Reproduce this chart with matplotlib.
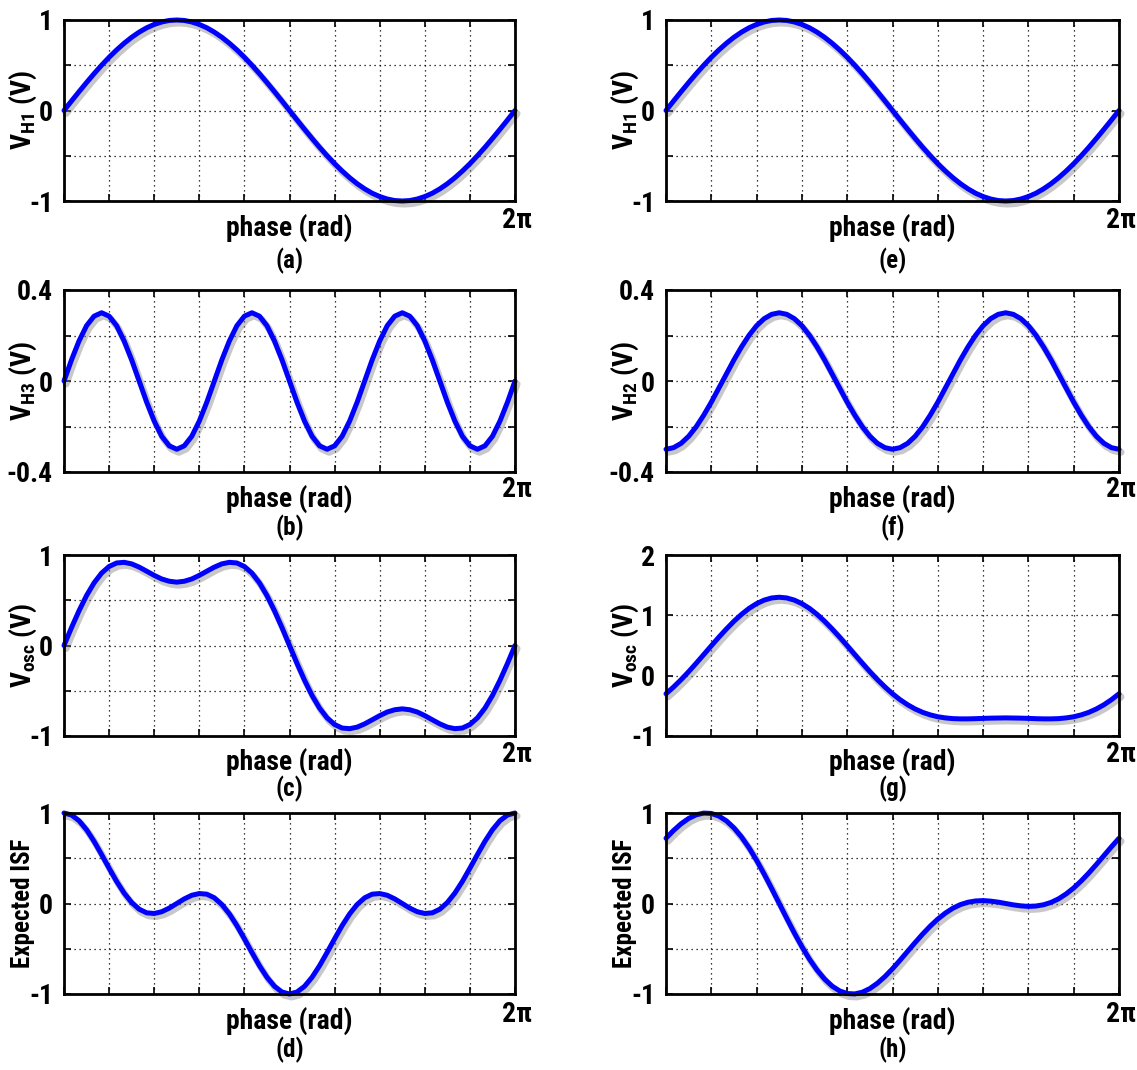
import numpy as np
import matplotlib
matplotlib.use("Agg")
import matplotlib.pyplot as plt
import matplotlib.patheffects as pe
from matplotlib import font_manager

# ---------------- data ----------------
phase_deg = list(range(0, 361, 6))  # 61 samples over one period

v_h1 = [0, .105, .208, .309, .407, .5, .588, .669, .743, .809, .866, .914, .951, .978, .995, 1,
        .995, .978, .951, .914, .866, .809, .743, .669, .588, .5, .407, .309, .208, .105, 0,
        -.105, -.208, -.309, -.407, -.5, -.588, -.669, -.743, -.809, -.866, -.914, -.951, -.978, -.995, -1,
        -.995, -.978, -.951, -.914, -.866, -.809, -.743, -.669, -.588, -.5, -.407, -.309, -.208, -.105, 0]

v_h3 = [0, .093, .176, .243, .285, .3, .285, .243, .176, .093,
        0, -.093, -.176, -.243, -.285, -.3, -.285, -.243, -.176, -.093,
        0, .093, .176, .243, .285, .3, .285, .243, .176, .093,
        0, -.093, -.176, -.243, -.285, -.3, -.285, -.243, -.176, -.093,
        0, .093, .176, .243, .285, .3, .285, .243, .176, .093,
        0, -.093, -.176, -.243, -.285, -.3, -.285, -.243, -.176, -.093, 0]

v_h2 = [-.3, -.293, -.274, -.243, -.201, -.15, -.093, -.031, .031, .093, .15, .201, .243, .274, .293, .3,
        .293, .274, .243, .201, .15, .093, .031, -.031, -.093, -.15, -.201, -.243, -.274, -.293, -.3,
        -.293, -.274, -.243, -.201, -.15, -.093, -.031, .031, .093, .15, .201, .243, .274, .293, .3,
        .293, .274, .243, .201, .15, .093, .031, -.031, -.093, -.15, -.201, -.243, -.274, -.293, -.3]

v_osc_c = [0, .198, .384, .552, .692, .8, .873, .912, .919, .902, .866, .821, .775, .735, .71, .7,
           .71, .735, .775, .821, .866, .902, .919, .912, .873, .8, .692, .552, .384, .198, 0,
           -.198, -.384, -.552, -.692, -.8, -.873, -.912, -.919, -.902, -.866, -.821, -.775, -.735, -.71, -.7,
           -.71, -.735, -.775, -.821, -.866, -.902, -.919, -.912, -.873, -.8, -.692, -.552, -.384, -.198, 0]

v_osc_g = [-.3, -.188, -.066, .066, .206, .35, .495, .638, .774, .902, 1.016, 1.115, 1.194, 1.252, 1.288, 1.3,
           1.288, 1.252, 1.194, 1.115, 1.016, .902, .774, .638, .495, .35, .206, .066, -.066, -.188, -.3,
           -.398, -.482, -.552, -.608, -.65, -.681, -.7, -.712, -.716, -.716, -.713, -.708, -.704, -.702, -.7,
           -.702, -.704, -.708, -.713, -.716, -.716, -.712, -.7, -.681, -.65, -.608, -.552, -.482, -.398, -.3]

isf_d = [1.0, .978, .915, .815, .687, .541, .39, .244, .115, .011, -.063, -.103, -.11, -.091, -.051, 0,
         .051, .091, .11, .103, .063, -.011, -.115, -.244, -.39, -.541, -.687, -.815, -.915, -.978, -1.0,
         -.978, -.915, -.815, -.687, -.541, -.39, -.244, -.115, -.011, .063, .103, .11, .091, .051, 0,
         -.051, -.091, -.11, -.103, -.063, .011, .115, .244, .39, .541, .687, .815, .915, .978, 1.0]

isf_h = [.721, .807, .881, .94, .98, .999, .995, .966, .913, .835, .735, .615, .477, .326, .165, 0,
         -.165, -.326, -.477, -.615, -.735, -.835, -.913, -.966, -.995, -.999, -.98, -.94, -.881, -.807, -.721,
         -.627, -.529, -.431, -.337, -.25, -.172, -.106, -.052, -.012, .014, .028, .032, .026, .015, 0,
         -.015, -.026, -.032, -.028, -.014, .012, .052, .106, .172, .25, .337, .431, .529, .627, .721]

y_labels = [r"$\mathbf{V_{H1}}$ (V)", r"$\mathbf{V_{H3}}$ (V)", r"$\mathbf{V_{osc}}$ (V)", "Expected ISF",
            r"$\mathbf{V_{H1}}$ (V)", r"$\mathbf{V_{H2}}$ (V)", r"$\mathbf{V_{osc}}$ (V)", "Expected ISF"]
captions = ["(a)", "(b)", "(c)", "(d)", "(e)", "(f)", "(g)", "(h)"]
series = [v_h1, v_h3, v_osc_c, isf_d, v_h1, v_h2, v_osc_g, isf_h]
yticks_1 = [-1, -0.5, 0, 0.5, 1]
yticklabels_1 = ["-1", "", "0", "", "1"]
yticks_04 = [-0.4, -0.2, 0, 0.2, 0.4]
yticklabels_04 = ["-0.4", "", "0", "", "0.4"]
yticks_g = [-1, 0, 1, 2]
yticklabels_g = ["-1", "0", "1", "2"]
ytick_sets = [(yticks_1, yticklabels_1), (yticks_04, yticklabels_04), (yticks_1, yticklabels_1),
              (yticks_1, yticklabels_1), (yticks_1, yticklabels_1), (yticks_04, yticklabels_04),
              (yticks_g, yticklabels_g), (yticks_1, yticklabels_1)]

# ---------------- style ----------------
names = {f.name for f in font_manager.fontManager.ttflist}
fam = "Liberation Sans"
FS = 17.5
for cand in ["Liberation Sans Narrow", "Arial Narrow", "Roboto Condensed", "Open Sans Condensed",
             "DejaVu Sans Condensed", "Noto Sans Condensed"]:
    if cand in names:
        fam = cand
        FS = 20
        break
plt.rcParams["font.family"] = [fam, "DejaVu Sans"]
plt.rcParams["font.weight"] = "bold"
plt.rcParams["mathtext.fontset"] = "custom"
plt.rcParams["mathtext.bf"] = f"{fam}:bold"
plt.rcParams["mathtext.rm"] = f"{fam}:bold"
plt.rcParams["mathtext.it"] = f"{fam}:bold"

W, H = 1137, 1070
fig = plt.figure(figsize=(W / 100, H / 100), dpi=100)
fig.patch.set_facecolor("white")

cols_x = [(64, 515), (666, 1119)]
ylabel_x = [23, 625]
rows_y = [(20, 201), (290, 472), (555, 736), (813, 994)]
phase_off = [27, 27, 26, 27]
caption_off = [60, 56, 53, 56]
twopi_off = [19, 18, 18, 21]

phase = np.deg2rad(phase_deg)
xt = np.linspace(0, 2 * np.pi, 11)

for idx in range(8):
    c, r = idx // 4, idx % 4
    x0, x1 = cols_x[c]
    y0, y1 = rows_y[r]
    ax = fig.add_axes([x0 / W, 1 - y1 / H, (x1 - x0) / W, (y1 - y0) / H])
    yt, ytl = ytick_sets[idx]
    ax.plot(phase, series[idx], color="#0000FF", lw=3.6, solid_capstyle="round",
            path_effects=[pe.SimpleLineShadow(offset=(1.5, -2.2), shadow_color="#777777", alpha=0.4, linewidth=5),
                          pe.Normal()], zorder=3, clip_on=False)
    ax.set_xlim(0, 2 * np.pi)
    ax.set_ylim(yt[0], yt[-1])
    ax.set_xticks(xt)
    ax.set_xticklabels([""] * len(xt))
    ax.set_yticks(yt)
    ax.set_yticklabels(ytl, fontsize=FS, fontweight="bold")
    ax.grid(True, color="black", linestyle=(0, (1, 3)), linewidth=0.9)
    ax.tick_params(direction="in", length=5, width=1.2, top=True, right=True, pad=8)
    for s in ax.spines.values():
        s.set_linewidth(2.0)
        s.set_zorder(4)
    ax.set_axisbelow(True)
    lab_fs = FS - 2 if "ISF" in y_labels[idx] else FS
    ax.set_ylabel(y_labels[idx], fontsize=lab_fs, fontweight="bold")
    ax.yaxis.set_label_coords((ylabel_x[c] - x0) / (x1 - x0), 0.5)
    ax.yaxis.label.set_va("center")
    cx = (x0 + x1) / 2
    fig.text(cx / W, 1 - (y1 + phase_off[r]) / H, "phase (rad)", ha="center", va="center",
             fontsize=FS, fontweight="bold")
    fig.text(cx / W, 1 - (y1 + caption_off[r]) / H, captions[idx], ha="center", va="center",
             fontsize=FS - 2, fontweight="bold")
    fig.text((x1 + 2) / W, 1 - (y1 + twopi_off[r]) / H, "2π", ha="center", va="center",
             fontsize=FS, fontweight="bold")

fig.savefig("out.png", dpi=100, facecolor="white")
